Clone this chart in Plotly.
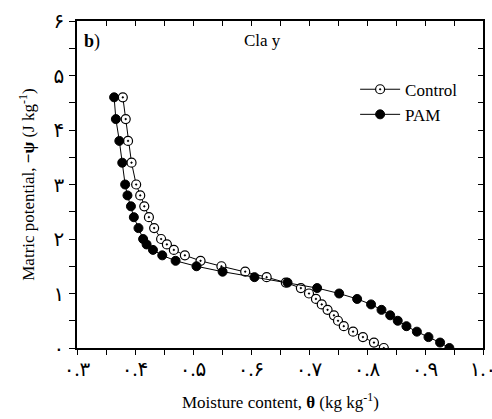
import plotly.graph_objects as go

# Matric potential levels (J/kg)
psi = [4.6, 4.2, 3.8, 3.4, 3.0, 2.8, 2.6, 2.4, 2.2, 2.0, 1.9, 1.8, 1.7, 1.6, 1.5,
       1.4, 1.3, 1.2, 1.1, 1.0, 0.9, 0.8, 0.7, 0.6, 0.5, 0.4, 0.3, 0.2, 0.1, 0.0]

# Moisture content (kg/kg)
theta_control = [0.379, 0.384, 0.388, 0.394, 0.402, 0.409, 0.416, 0.424, 0.433, 0.445,
                 0.455, 0.467, 0.486, 0.513, 0.549, 0.590, 0.627, 0.660, 0.686, 0.700,
                 0.712, 0.722, 0.732, 0.743, 0.750, 0.760, 0.776, 0.793, 0.812, 0.829]
theta_pam = [0.364, 0.367, 0.373, 0.378, 0.383, 0.387, 0.393, 0.398, 0.406, 0.414,
             0.420, 0.431, 0.447, 0.470, 0.506, 0.551, 0.606, 0.663, 0.714, 0.752,
             0.783, 0.807, 0.825, 0.840, 0.853, 0.868, 0.886, 0.906, 0.926, 0.942]

x_tick_vals = [0.3, 0.4, 0.5, 0.6, 0.7, 0.8, 0.9, 1.0]
x_tick_text = ["۰.۳", "۰.۴", "۰.۵", "۰.۶", "۰.۷", "۰.۸", "۰.۹", "۱.۰"]
y_tick_vals = [0, 1, 2, 3, 4, 5, 6]
y_tick_text = ["۰", "۱", "۲", "۳", "۴", "۵", "۶"]

x_title = "Moisture content, <b>θ</b> (kg kg<sup>-1</sup>)"
y_title = "Matric potential, <b>−ψ</b> (J kg<sup>-1</sup>)"

FONT = "Liberation Serif, Times New Roman, DejaVu Serif, serif"
DIGIT_FONT = "Liberation Serif, DejaVu Sans, serif"

fig = go.Figure()
fig.add_trace(go.Scatter(
    x=theta_control, y=psi, mode="lines+markers", name="Control",
    line=dict(color="black", width=1),
    marker=dict(symbol="circle-dot", size=9, color="white",
                line=dict(color="black", width=1.2)),
))
fig.add_trace(go.Scatter(
    x=theta_pam, y=psi, mode="lines+markers", name="PAM",
    line=dict(color="black", width=1),
    marker=dict(symbol="circle", size=9, color="black",
                line=dict(color="black", width=1)),
))
# dummy trace to activate mirrored (top/right) axes
fig.add_trace(go.Scatter(x=[None], y=[None], xaxis="x2", yaxis="y2",
                         showlegend=False, hoverinfo="skip"))

axis_common = dict(showline=True, linecolor="black", linewidth=1.5,
                   showgrid=False, zeroline=False, automargin=False)

fig.update_layout(
    width=492, height=419,
    margin=dict(l=77, r=9, t=21, b=71, autoexpand=False),
    plot_bgcolor="white", paper_bgcolor="white",
    font=dict(family=FONT, size=16, color="black"),
    xaxis=dict(**axis_common, range=[0.3, 1.0], tickvals=x_tick_vals,
               ticktext=x_tick_text, ticks="outside", ticklen=5, tickwidth=1,
               tickcolor="black", ticklabelstandoff=-3, ticklabeloverflow="allow",
               minor=dict(dtick=0.05, tick0=0.3, ticks="outside", ticklen=5,
                          tickwidth=1, tickcolor="black"),
               tickfont=dict(family=DIGIT_FONT, size=20)),
    yaxis=dict(**axis_common, range=[0, 6], tickvals=y_tick_vals,
               ticktext=y_tick_text, ticks="outside", ticklen=6, tickwidth=1,
               tickcolor="black", ticklabelstandoff=1,
               minor=dict(dtick=0.5, tick0=0, ticks="outside", ticklen=6,
                          tickwidth=1, tickcolor="black"),
               tickfont=dict(family=DIGIT_FONT, size=20)),
    xaxis2=dict(**axis_common, overlaying="x", side="top", matches="x",
                range=[0.3, 1.0], showticklabels=False, ticks="inside",
                ticklen=5, tickwidth=1, tickcolor="black", dtick=0.05, tick0=0.3),
    yaxis2=dict(**axis_common, overlaying="y", side="right", matches="y",
                range=[0, 6], showticklabels=False, ticks="inside",
                ticklen=5, tickwidth=1, tickcolor="black", dtick=0.5, tick0=0),
    legend=dict(x=0.685, y=0.845, xanchor="left", yanchor="top",
                bgcolor="rgba(0,0,0,0)", font=dict(family=FONT, size=17),
                tracegroupgap=0, itemwidth=40),
    annotations=[
        dict(text="<b>b</b>)", xref="paper", yref="paper", x=0.012, y=0.975,
             xanchor="left", yanchor="top", showarrow=False,
             font=dict(family=FONT, size=18)),
        dict(text="Cla y", xref="paper", yref="paper", x=0.407, y=0.975,
             xanchor="left", yanchor="top", showarrow=False,
             font=dict(family=FONT, size=17)),
        dict(text=x_title, xref="paper", yref="paper", x=0.5, y=-0.162,
             xanchor="center", yanchor="middle", showarrow=False,
             font=dict(family=FONT, size=17)),
        dict(text=y_title, xref="paper", yref="paper", x=-0.125, y=0.5,
             xanchor="center", yanchor="middle", showarrow=False, textangle=-90,
             font=dict(family=FONT, size=17)),
    ],
)

fig.write_html("out.html", config={"displayModeBar": False},
               post_script="document.body.style.margin='0';"
                           "document.body.style.overflow='hidden';")
